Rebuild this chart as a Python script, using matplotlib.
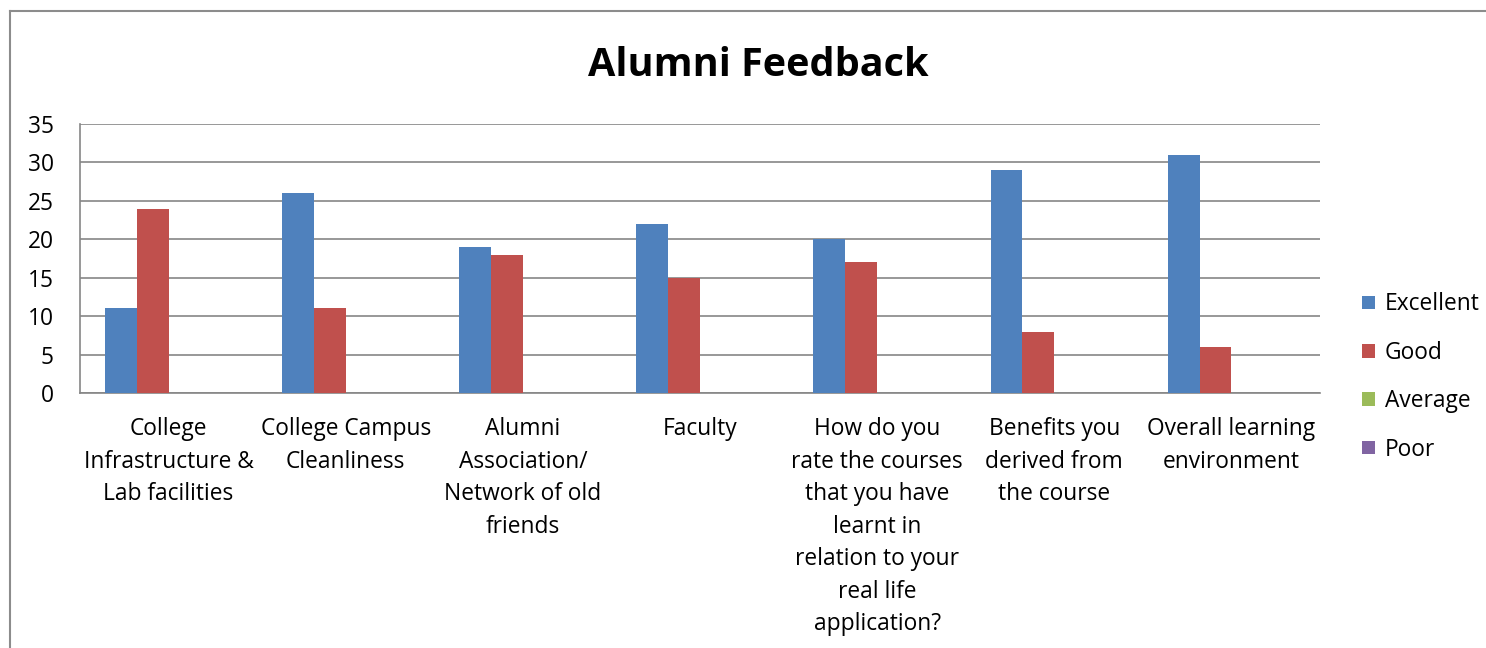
import numpy as np
import matplotlib.pyplot as plt
from matplotlib.lines import Line2D

categories = [
    "College\nInfrastructure &\nLab facilities",
    "College Campus\nCleanliness",
    "Alumni\nAssociation/\nNetwork of old\nfriends",
    "Faculty",
    "How do you\nrate the courses\nthat you have\nlearnt in\nrelation to your\nreal life\napplication?",
    "Benefits you\nderived from\nthe course",
    "Overall learning\nenvironment",
]
excellent = [11, 26, 19, 22, 20, 29, 31]
good = [24, 11, 18, 15, 17, 8, 6]
average = [0, 0, 0, 0, 0, 0, 0]
poor = [0, 0, 0, 0, 0, 0, 0]

series = [("Excellent", excellent, "#4F81BD"),
          ("Good", good, "#C0504D"),
          ("Average", average, "#9BBB59"),
          ("Poor", poor, "#8064A2")]

plt.rcParams['font.family'] = ['Open Sans', 'DejaVu Sans']

fig = plt.figure(figsize=(14.86, 6.48), dpi=100)
ax = fig.add_axes([80 / 1486, 1 - 393 / 648, 1240 / 1486, 269 / 648])

x = np.arange(len(categories))
w = 0.18
for i, (name, vals, col) in enumerate(series):
    ax.bar(x + (i - 1.5) * w, vals, w, color=col, label=name, zorder=3)

ax.set_xlim(-0.5, len(categories) - 0.5)
ax.set_ylim(0, 35)
ax.set_yticks(range(0, 36, 5))
ax.yaxis.grid(True, color='#868686', linewidth=1.2, zorder=0)
ax.set_xticks(x)
ax.set_xticklabels(categories, fontsize=16.4, linespacing=1.47)
ax.tick_params(axis='both', length=0, labelsize=16.4)
ax.tick_params(axis='x', pad=17.5)
ax.tick_params(axis='y', pad=19)
for s in ['top', 'right']:
    ax.spines[s].set_visible(False)
for s in ['left', 'bottom']:
    ax.spines[s].set_color('#868686')
    ax.spines[s].set_linewidth(1.2)

fig.text(758 / 1486, 1 - 66 / 648, "Alumni Feedback", fontsize=28.5, fontweight='bold',
         ha='center', va='center')

fig.legend(loc='center left', bbox_to_anchor=(1362 / 1486, 1 - 377 / 648), frameon=False,
           fontsize=16.4, handlelength=0.55, handleheight=0.55, labelspacing=1.07,
           handletextpad=0.45, borderpad=0, borderaxespad=0)

# outer chart border
fig.add_artist(Line2D([10 / 1486, 10 / 1486], [0, 1 - 11 / 648], color='#8c8c8c', lw=1.5))
fig.add_artist(Line2D([10 / 1486, 1], [1 - 11 / 648, 1 - 11 / 648], color='#8c8c8c', lw=1.5))

fig.savefig('out.png', dpi=100)
